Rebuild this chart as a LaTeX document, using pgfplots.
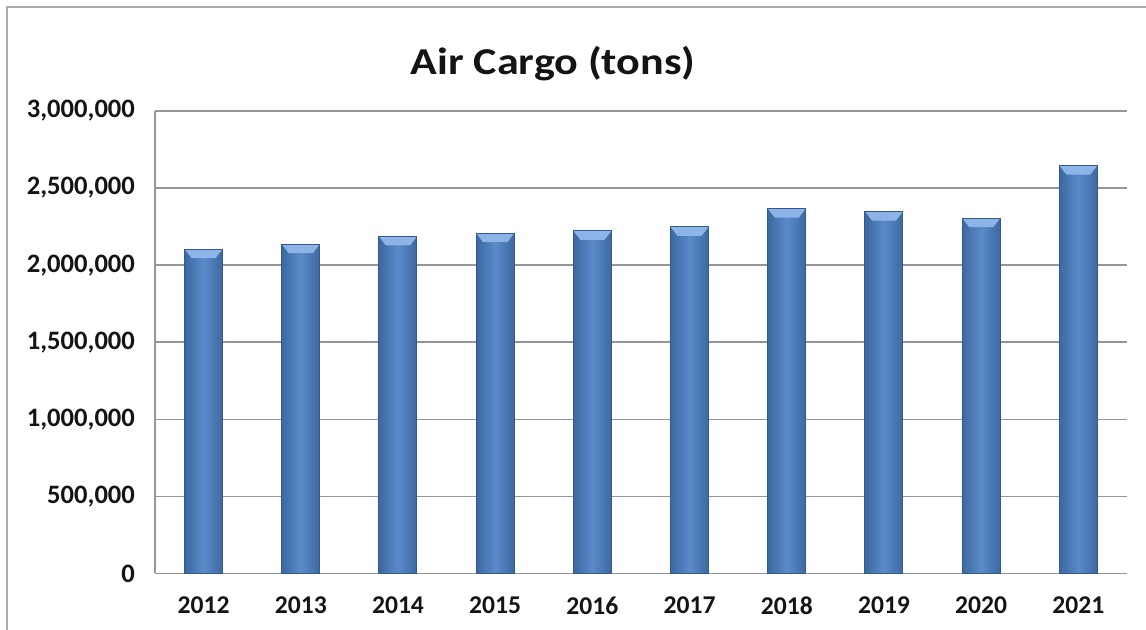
\documentclass[border=0pt]{standalone}
\usepackage{pgfplots}
\pgfplotsset{compat=1.18}
\usepackage{fontspec}
\setmainfont{Carlito}
\definecolor{barmid}{HTML}{5A8ACA}
\definecolor{baredge}{HTML}{3D69A0}
\definecolor{bardraw}{HTML}{34598A}
\definecolor{barcap}{HTML}{8CB4E6}
\definecolor{gridc}{HTML}{969696}
\definecolor{txt}{HTML}{141414}
\newif\ifincap
\tikzset{barcapstyle/.style={path picture={\ifincap\else\incaptrue
      \pgfpathmoveto{\pgfpointanchor{path picture bounding box}{north west}}%
      \pgfpathlineto{\pgfpointanchor{path picture bounding box}{north east}}%
      \pgfpathlineto{\pgfpointadd{\pgfpointanchor{path picture bounding box}{north east}}{\pgfpoint{-3.5pt}{-4.5pt}}}%
      \pgfpathlineto{\pgfpointadd{\pgfpointanchor{path picture bounding box}{north west}}{\pgfpoint{3.5pt}{-4.5pt}}}%
      \pgfpathclose
      \pgfsetfillcolor{barcap}\pgfusepath{fill}%
    \fi}}}
\begin{document}
\begin{tikzpicture}
\useasboundingbox (0,0) rectangle (573pt,315pt);
\draw[gridc!80, line width=1pt] (3.5pt,0) -- (3.5pt,311.5pt) -- (573pt,311.5pt);
\node[anchor=base, text=txt, inner sep=0pt] at (276.5pt,277.5pt) {\scalebox{1.16}[1]{\fontsize{19}{21}\selectfont\bfseries Air Cargo (tons)}};
\begin{axis}[
  at={(77.5pt,28.25pt)}, anchor=south west,
  scale only axis, width=486pt, height=231.25pt,
  xmin=-0.5, xmax=9.5, ymin=0, ymax=3000000,
  xtick={0,...,9},
  xticklabels={2012,2013,2014,2015,2016,2017,2018,2019,2020,2021},
  ytick={0,500000,1000000,1500000,2000000,2500000,3000000},
  scaled y ticks=false,
  yticklabel={\pgfmathprintnumber[fixed,precision=0,1000 sep={,}]{\tick}},
  /pgf/number format/assume math mode=true,
  axis x line*=bottom, axis y line*=left,
  axis line style={gridc, line width=0.8pt},
  major tick length=0pt,
  ymajorgrids, grid style={gridc, line width=0.8pt},
  yticklabel style={font=\fontsize{13.3}{15}\selectfont\bfseries, text=txt, xshift=-6.5pt},
  xticklabel style={font=\fontsize{12.8}{15}\selectfont\bfseries, text=txt, yshift=-8pt},
  ybar, bar width=19pt, bar shift=0pt,
  cycle list={draw=bardraw, line width=0.5pt, left color=baredge, right color=baredge, middle color=barmid, barcapstyle\\},
]
\addplot coordinates {(0,2104000)};
\addplot coordinates {(1,2136000)};
\addplot coordinates {(2,2186000)};
\addplot coordinates {(3,2207000)};
\addplot coordinates {(4,2222000)};
\addplot coordinates {(5,2248000)};
\addplot coordinates {(6,2367000)};
\addplot coordinates {(7,2348000)};
\addplot coordinates {(8,2305000)};
\addplot coordinates {(9,2646000)};
\end{axis}
\end{tikzpicture}
\end{document}
